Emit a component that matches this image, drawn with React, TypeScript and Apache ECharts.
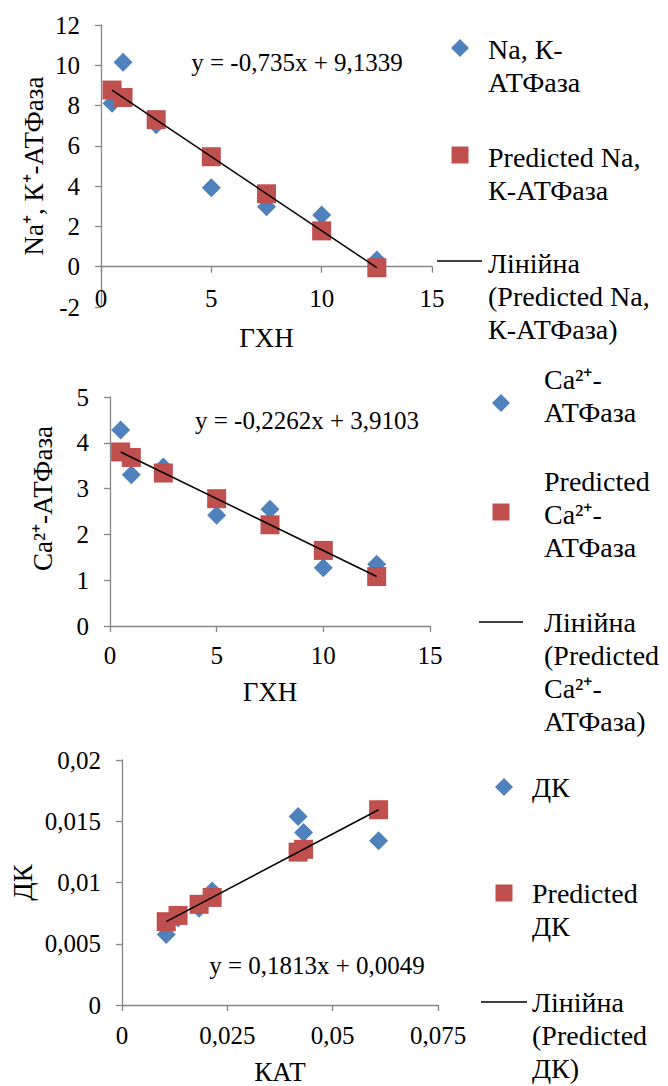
import React, { useEffect, useRef } from "react";
import * as echarts from "echarts";

const FONT = "Liberation Serif";
const BLUE = "#4F81BD";
const RED = "#C0504D";
const AXIS = "#868686";

// ---- Chart 1: Na+, K+-ATPase vs ГХН ----
const gxnX = [0.5, 1, 2.5, 5, 7.5, 10, 12.5];
const naKValues = [8.11, 10.15, 7.05, 3.92, 2.98, 2.57, 0.33];
const naKPredicted = [8.77, 8.4, 7.3, 5.46, 3.62, 1.78, -0.05];
const naKNames = ["Na, К-\nАТФаза", "Predicted Na,\nК-АТФаза", "Лінійна\n(Predicted Na,\nК-АТФаза)"];
const naKEquation = "y = -0,735x + 9,1339";

// ---- Chart 2: Ca2+-ATPase vs ГХН ----
const caValues = [4.28, 3.3, 3.47, 2.42, 2.55, 1.27, 1.35];
const caPredicted = [3.8, 3.68, 3.34, 2.78, 2.21, 1.65, 1.08];
const caNames = ["Ca²⁺-\nАТФаза", "Predicted\nCa²⁺-\nАТФаза", "Лінійна\n(Predicted\nCa²⁺-\nАТФаза)"];
const caEquation = "y = -0,2262x + 3,9103";

// ---- Chart 3: ДК vs КАТ ----
const katX = [0.0105, 0.0133, 0.0183, 0.0214, 0.0418, 0.0431, 0.0609];
const dkValues = [0.00575, 0.0071, 0.0079, 0.0093, 0.01539, 0.01408, 0.01341];
const dkPredicted = [0.0068, 0.00731, 0.00822, 0.00878, 0.01248, 0.01271, 0.01594];
const dkNames = ["ДК", "Predicted\nДК", "Лінійна\n(Predicted\nДК)"];
const dkEquation = "y = 0,1813x + 0,0049";

const comma = (v: number) => String(v).replace(".", ",");

const TICK_FS = 25;
const NAME_FS = 27;
const LEG_FS = 28;
const LEG_LH = 33;
const EQ_FS = 25;

function xAxisOpt(gridIndex: number, min: number, max: number, interval: number, name: string, nameGap: number, labelMargin: number) {
  return {
    type: "value",
    gridIndex,
    min,
    max,
    interval,
    name,
    nameLocation: "middle",
    nameGap,
    nameTextStyle: { fontFamily: FONT, fontSize: NAME_FS, color: "#000" },
    axisLine: { onZero: true, lineStyle: { color: AXIS, width: 1.3 } },
    axisTick: { show: true, length: 6, lineStyle: { color: AXIS, width: 1.3 } },
    axisLabel: { fontFamily: FONT, fontSize: TICK_FS, color: "#000", margin: labelMargin, formatter: comma, showMaxLabel: true, showMinLabel: true },
    splitLine: { show: false },
  };
}

function yAxisOpt(gridIndex: number, min: number, max: number, interval: number, name: string, nameGap: number, namePadding: number[]) {
  return {
    type: "value",
    gridIndex,
    min,
    max,
    interval,
    name,
    nameLocation: "middle",
    nameGap,
    nameTextStyle: { fontFamily: FONT, fontSize: NAME_FS, color: "#000", padding: namePadding },
    axisLine: { show: true, lineStyle: { color: AXIS, width: 1.3 } },
    axisTick: { show: true, length: 6, lineStyle: { color: AXIS, width: 1.3 } },
    axisLabel: { fontFamily: FONT, fontSize: TICK_FS, color: "#000", margin: 21, formatter: comma },
    splitLine: { show: false },
  };
}

function seriesFor(idx: number, xs: number[], values: number[], predicted: number[], names: string[]) {
  return [
    {
      type: "scatter",
      name: names[0],
      xAxisIndex: idx,
      yAxisIndex: idx,
      symbol: "diamond",
      symbolSize: 19,
      itemStyle: { color: BLUE, opacity: 1 },
      data: xs.map((x, i) => [x, values[i]]),
    },
    {
      type: "scatter",
      name: names[1],
      xAxisIndex: idx,
      yAxisIndex: idx,
      symbol: "rect",
      symbolSize: 19,
      itemStyle: { color: RED, opacity: 1 },
      data: xs.map((x, i) => [x, predicted[i]]),
    },
    {
      type: "line",
      name: names[2],
      xAxisIndex: idx,
      yAxisIndex: idx,
      showSymbol: false,
      symbol: "none",
      lineStyle: { color: "#000", width: 1.5 },
      data: [
        [xs[0], predicted[0]],
        [xs[xs.length - 1], predicted[predicted.length - 1]],
      ],
    },
  ];
}

type LegendPos = { iconX: number; iconY: number; textX: number; textY: number };

function legendGraphics(names: string[], pos: LegendPos[], lineX: [number, number]) {
  const els: any[] = [];
  names.forEach((n, i) => {
    const p = pos[i];
    if (i === 0) {
      els.push({
        type: "polygon",
        shape: { points: [[p.iconX, p.iconY - 9], [p.iconX + 9, p.iconY], [p.iconX, p.iconY + 9], [p.iconX - 9, p.iconY]] },
        style: { fill: BLUE },
      });
    } else if (i === 1) {
      els.push({
        type: "rect",
        shape: { x: p.iconX - 8.5, y: p.iconY - 8.5, width: 17, height: 17 },
        style: { fill: RED },
      });
    } else {
      els.push({
        type: "line",
        shape: { x1: lineX[0], y1: p.iconY, x2: lineX[1], y2: p.iconY },
        style: { stroke: "#000", lineWidth: 1.5 },
      });
    }
    els.push({
      type: "text",
      x: p.textX,
      y: p.textY - LEG_LH / 2,
      style: {
        text: n,
        fontFamily: FONT,
        fontSize: LEG_FS,
        lineHeight: LEG_LH,
        fill: "#000",
        align: "left",
        verticalAlign: "top",
      },
    });
  });
  return els;
}

function equationText(text: string, cx: number, cy: number) {
  return {
    type: "text",
    x: cx,
    y: cy,
    style: { text, fontFamily: FONT, fontSize: EQ_FS, fill: "#000", align: "center", verticalAlign: "middle" },
  };
}

export default function App() {
  const ref = useRef<HTMLDivElement>(null);
  useEffect(() => {
    if (!ref.current) return;
    const chart = echarts.init(ref.current, undefined, { renderer: "svg" });
    const option: any = {
      animation: false,
      backgroundColor: "#fff",
      textStyle: { fontFamily: FONT },
      grid: [
        { left: 101, top: 25, width: 331, height: 282, containLabel: false },
        { left: 110, top: 397, width: 320, height: 229, containLabel: false },
        { left: 122, top: 760, width: 316, height: 246, containLabel: false },
      ],
      xAxis: [
        xAxisOpt(0, 0, 15, 5, "ГХН", 17, -21),
        xAxisOpt(1, 0, 15, 5, "ГХН", 52, 17),
        xAxisOpt(2, 0, 0.075, 0.025, "КАТ", 53, 18),
      ],
      yAxis: [
        yAxisOpt(0, -2, 12, 2, "Na⁺, К⁺-АТФаза", 54, [0, 0, 0, 0]),
        yAxisOpt(1, 0, 5, 1, "Ca²⁺-АТФаза", 54, [0, 0, 0, 26]),
        yAxisOpt(2, 0, 0.02, 0.005, "ДК", 86, [0, 0, 0, 0]),
      ],
      series: [
        ...seriesFor(0, gxnX, naKValues, naKPredicted, naKNames),
        ...seriesFor(1, gxnX, caValues, caPredicted, caNames),
        ...seriesFor(2, katX, dkValues, dkPredicted, dkNames),
      ],
      graphic: [
        equationText(naKEquation, 297, 62),
        equationText(caEquation, 307, 420),
        equationText(dkEquation, 317, 965),
        ...legendGraphics(
          naKNames,
          [
            { iconX: 460, iconY: 48, textX: 488, textY: 49 },
            { iconX: 460, iconY: 155, textX: 488, textY: 157 },
            { iconX: 460, iconY: 261, textX: 488, textY: 263 },
          ],
          [437, 482]
        ),
        ...legendGraphics(
          caNames,
          [
            { iconX: 501, iconY: 403, textX: 544, textY: 379 },
            { iconX: 501, iconY: 512, textX: 544, textY: 481 },
            { iconX: 501, iconY: 622, textX: 544, textY: 622 },
          ],
          [479, 523]
        ),
        ...legendGraphics(
          dkNames,
          [
            { iconX: 504, iconY: 787, textX: 532, textY: 787 },
            { iconX: 504, iconY: 893, textX: 532, textY: 893 },
            { iconX: 504, iconY: 1002, textX: 532, textY: 1002 },
          ],
          [481, 527]
        ),
      ],
    };
    chart.setOption(option);
    return () => chart.dispose();
  }, []);
  return <div ref={ref} style={{ position: "absolute", left: 0, top: 0, width: 668, height: 1086 }} />;
}
